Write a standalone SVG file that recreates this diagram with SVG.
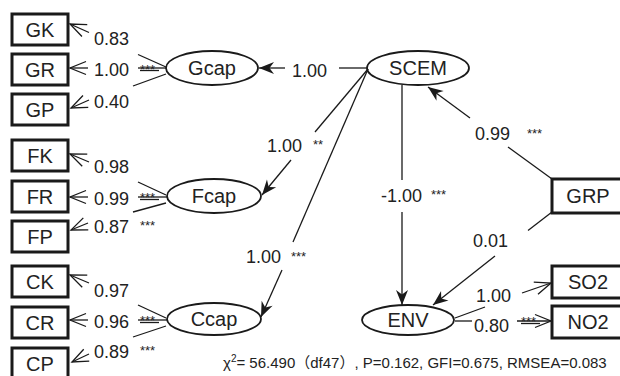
<svg xmlns="http://www.w3.org/2000/svg" width="620" height="376" viewBox="0 0 620 376">
  <style>
    .box { fill: #fff; stroke: #1a1a1a; stroke-width: 3; }
    .lat { fill: #fff; stroke: #1a1a1a; stroke-width: 1.8; }
    .nl { font-family: "Liberation Sans", Arial, sans-serif; font-size: 20px; fill: #222; text-anchor: middle; }
    .ln { stroke: #1a1a1a; stroke-width: 1.3; fill: none; }
    .open { marker-end: url(#openHead); }
    .solid { marker-end: url(#solidHead); }
    .coef { font-family: "Liberation Sans", Arial, sans-serif; font-size: 18px; fill: #222; }
    .sig { font-family: "Liberation Sans", Arial, sans-serif; font-size: 13px; fill: #222; }
    .fit { font-family: "Liberation Sans", Arial, "Noto Sans CJK SC", sans-serif; font-size: 15px; fill: #222; }
  </style>
  <defs>
    <marker id="openHead" markerUnits="userSpaceOnUse" viewBox="-18 -8 20 16" refX="0" refY="0" markerWidth="20" markerHeight="16" orient="auto" overflow="visible">
      <path d="M-16,-6.5 L0,0 L-16,6.5" fill="none" stroke="#1a1a1a" stroke-width="1.3"/>
    </marker>
    <marker id="solidHead" markerUnits="userSpaceOnUse" viewBox="-16 -8 18 16" refX="0" refY="0" markerWidth="18" markerHeight="16" orient="auto" overflow="visible">
      <path d="M0,0 L-15,-6 L-10.5,0 L-15,6 Z" fill="#1a1a1a"/>
    </marker>
  </defs>

  <!-- observed indicators -->
  <g id="GK"><rect class="box" x="12" y="14" width="56" height="31"/><text class="nl" x="40" y="37">GK</text></g>
  <g id="GR"><rect class="box" x="12" y="54" width="56" height="31"/><text class="nl" x="40" y="77">GR</text></g>
  <g id="GP"><rect class="box" x="12" y="94" width="56" height="31"/><text class="nl" x="40" y="117">GP</text></g>
  <g id="FK"><rect class="box" x="12" y="140" width="56" height="31"/><text class="nl" x="40" y="163">FK</text></g>
  <g id="FR"><rect class="box" x="12" y="181" width="56" height="31"/><text class="nl" x="40" y="204">FR</text></g>
  <g id="FP"><rect class="box" x="12" y="221" width="56" height="31"/><text class="nl" x="40" y="244">FP</text></g>
  <g id="CK"><rect class="box" x="12" y="266" width="56" height="31"/><text class="nl" x="40" y="289">CK</text></g>
  <g id="CR"><rect class="box" x="12" y="307" width="56" height="31"/><text class="nl" x="40" y="330">CR</text></g>
  <g id="CP"><rect class="box" x="12" y="348" width="56" height="31"/><text class="nl" x="40" y="371">CP</text></g>
  <g id="GRP"><rect class="box" x="552" y="179" width="72" height="34"/><text class="nl" x="588" y="203">GRP</text></g>
  <g id="SO2"><rect class="box" x="552" y="266" width="72" height="32"/><text class="nl" x="588" y="289">SO2</text></g>
  <g id="NO2"><rect class="box" x="552" y="306" width="72" height="32"/><text class="nl" x="588" y="329">NO2</text></g>

  <!-- latent constructs -->
  <g id="Gcap"><ellipse class="lat" cx="212" cy="68" rx="46" ry="17"/><text class="nl" x="212" y="75">Gcap</text></g>
  <g id="Fcap"><ellipse class="lat" cx="214" cy="196" rx="47" ry="17"/><text class="nl" x="214" y="203">Fcap</text></g>
  <g id="Ccap"><ellipse class="lat" cx="214" cy="319" rx="47" ry="16"/><text class="nl" x="214" y="326">Ccap</text></g>
  <g id="SCEM"><ellipse class="lat" cx="418" cy="68" rx="51" ry="17"/><text class="nl" x="418" y="75">SCEM</text></g>
  <g id="ENV"><ellipse class="lat" cx="408" cy="320" rx="46" ry="15"/><text class="nl" x="408" y="327">ENV</text></g>

  <!-- paths, each split around its coefficient -->
  <g id="connectors">
    <!-- Gcap loadings -->
    <line class="ln" x1="166" y1="67" x2="138" y2="54.5"/>
    <line class="ln open" x1="89" y1="32.5" x2="70" y2="24"/>
    <line class="ln" x1="166" y1="68" x2="138" y2="68"/>
    <line class="ln" x1="140" y1="70.5" x2="159" y2="70.5"/>
    <line class="ln open" x1="88" y1="68" x2="70" y2="68"/>
    <line class="ln" x1="166" y1="74" x2="133" y2="86"/>
    <line class="ln open" x1="89" y1="100" x2="71" y2="108"/>
    <!-- Fcap loadings -->
    <line class="ln" x1="166" y1="195" x2="138" y2="182"/>
    <line class="ln open" x1="89" y1="162" x2="70" y2="154"/>
    <line class="ln" x1="167" y1="197" x2="138" y2="197"/>
    <line class="ln" x1="140" y1="199.5" x2="159" y2="199.5"/>
    <line class="ln open" x1="88" y1="197" x2="70" y2="197"/>
    <line class="ln" x1="166" y1="203" x2="133" y2="212"/>
    <line class="ln open" x1="88" y1="223" x2="71" y2="230"/>
    <!-- Ccap loadings -->
    <line class="ln" x1="166" y1="318" x2="138" y2="305"/>
    <line class="ln open" x1="89" y1="283" x2="70" y2="275"/>
    <line class="ln" x1="167" y1="320" x2="138" y2="320"/>
    <line class="ln" x1="140" y1="322.5" x2="159" y2="322.5"/>
    <line class="ln open" x1="88" y1="320" x2="70" y2="320"/>
    <line class="ln" x1="166" y1="326" x2="133" y2="337"/>
    <line class="ln open" x1="89" y1="354" x2="72" y2="362"/>
    <!-- SCEM to first-order constructs -->
    <line class="ln" x1="367" y1="68" x2="339" y2="68"/>
    <line class="ln solid" x1="285" y1="68" x2="259" y2="68"/>
    <line class="ln" x1="368" y1="69" x2="315" y2="132"/>
    <line class="ln solid" x1="291" y1="160" x2="262" y2="195"/>
    <line class="ln" x1="368" y1="69" x2="293" y2="242"/>
    <line class="ln solid" x1="282" y1="270" x2="261" y2="317"/>
    <!-- SCEM to ENV -->
    <line class="ln" x1="402" y1="85" x2="402" y2="180"/>
    <line class="ln solid" x1="402" y1="212" x2="402" y2="305"/>
    <!-- GRP paths -->
    <line class="ln" x1="552" y1="179" x2="508" y2="147"/>
    <line class="ln solid" x1="470" y1="118" x2="428" y2="87"/>
    <line class="ln" x1="552" y1="212" x2="528" y2="230.5"/>
    <line class="ln solid" x1="495" y1="256" x2="433" y2="305"/>
    <!-- ENV loadings -->
    <line class="ln" x1="455" y1="318" x2="485" y2="307"/>
    <line class="ln open" x1="522" y1="293" x2="551" y2="283"/>
    <line class="ln" x1="455" y1="321" x2="472" y2="321"/>
    <line class="ln open" x1="517" y1="321" x2="551" y2="321"/>
    <line class="ln" x1="521" y1="323.5" x2="540" y2="323.5"/>
  </g>

  <!-- standardised coefficients and significance marks -->
  <g id="coefficients">
    <text class="coef" x="94" y="45">0.83</text>
    <text class="coef" x="94" y="76">1.00</text>
    <text class="sig" x="140" y="74">***</text>
    <text class="coef" x="94" y="108">0.40</text>

    <text class="coef" x="94" y="173">0.98</text>
    <text class="coef" x="94" y="205">0.99</text>
    <text class="sig" x="140" y="202">***</text>
    <text class="coef" x="94" y="233">0.87</text>
    <text class="sig" x="140" y="230">***</text>

    <text class="coef" x="94" y="297">0.97</text>
    <text class="coef" x="94" y="328">0.96</text>
    <text class="sig" x="140" y="325">***</text>
    <text class="coef" x="94" y="358">0.89</text>
    <text class="sig" x="140" y="355">***</text>

    <text class="coef" x="292" y="77">1.00</text>
    <text class="coef" x="267" y="152">1.00</text>
    <text class="sig" x="313" y="149">**</text>
    <text class="coef" x="246" y="263">1.00</text>
    <text class="sig" x="291" y="261">***</text>
    <text class="coef" x="422" y="202" text-anchor="end">-1.00</text>
    <text class="sig" x="431" y="199">***</text>
    <text class="coef" x="475" y="140">0.99</text>
    <text class="sig" x="527" y="138">***</text>
    <text class="coef" x="473" y="247">0.01</text>
    <text class="coef" x="476" y="302">1.00</text>
    <text class="coef" x="474" y="332">0.80</text>
    <text class="sig" x="521" y="326">***</text>
  </g>

  <!-- model fit summary -->
  <text class="fit" x="223" y="368">χ<tspan font-size="10" dy="-6">2</tspan><tspan dy="6">= 56.490（df47）, P=0.162, GFI=0.675, RMSEA=0.083</tspan></text>
</svg>
